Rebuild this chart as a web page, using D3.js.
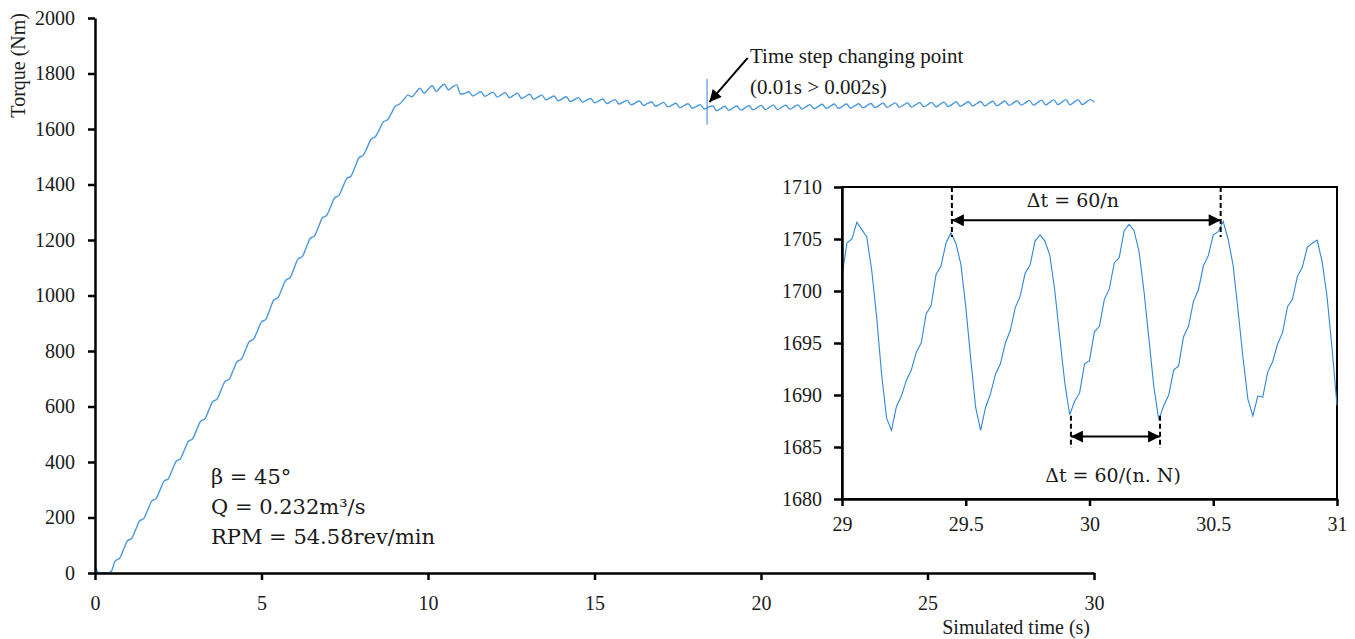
<!DOCTYPE html>
<html>
<head>
<meta charset="utf-8">
<script src="https://cdn.jsdelivr.net/npm/d3@7"></script>
<style>
  body { margin: 0; background: #fff; }
</style>
</head>
<body>
<div id="chart"></div>
<script>
// whole run: one torque sample every 0.122 s (a third of a blade passing period)
const sampleStep = 0.122;
const torque = [
  25, 0, 0, 0, 6,
  44, 52, 84, 116, 124, 156, 188, 196, 228, 260, 268, 299,
  331, 339, 371, 403, 411, 443, 475, 483, 515, 547, 555, 586,
  618, 626, 658, 690, 698, 730, 762, 770, 802, 834, 842, 873,
  905, 913, 948, 984, 992, 1024, 1056, 1064, 1098, 1132, 1140, 1173,
  1206, 1214, 1247, 1280, 1288, 1320, 1352, 1360, 1391, 1422, 1430, 1463,
  1497, 1505, 1534, 1564, 1572, 1598, 1626, 1633, 1658, 1684, 1690, 1706,
  1722, 1716, 1732, 1747, 1729, 1743, 1756, 1735, 1750, 1761, 1741, 1752,
  1759, 1726, 1728, 1734, 1719, 1727, 1734,
  1718, 1726, 1733, 1715, 1723, 1731, 1713, 1721, 1729, 1710, 1718, 1725,
  1707, 1715, 1722, 1705, 1712, 1719, 1702, 1709, 1716, 1699, 1706, 1713,
  1697, 1704, 1710, 1694, 1701, 1708, 1692, 1699, 1706, 1690, 1697, 1703,
  1687, 1694, 1701, 1685, 1692, 1698, 1682, 1689, 1696, 1680, 1686, 1693,
  1677, 1684, 1691, 1675, 1681, 1688, 1672,
  1679, 1684, 1666, 1673, 1682, 1667, 1675, 1683,
  1668, 1676, 1684, 1669, 1677, 1685, 1670, 1678, 1686, 1670, 1678, 1686,
  1671, 1679, 1687, 1672, 1680, 1688, 1673, 1681, 1689, 1674, 1682, 1690,
  1674, 1682, 1690, 1675, 1683, 1691, 1676, 1684, 1692, 1677, 1685, 1693,
  1678, 1686, 1694, 1678, 1686, 1694, 1679, 1687, 1695, 1680, 1688, 1696,
  1680, 1689, 1697, 1681, 1689, 1698, 1682, 1690, 1698, 1683, 1691, 1699,
  1683, 1692, 1700, 1684, 1692, 1701, 1685, 1693, 1702, 1686, 1694, 1703,
  1686, 1695, 1704, 1687, 1696, 1705, 1688, 1697, 1706, 1687, 1697, 1706,
  1688, 1697, 1706, 1697
];
const xTicksMain = [0, 5, 10, 15, 20, 25, 30];
const yTicksMain = [0, 200, 400, 600, 800, 1000, 1200, 1400, 1600, 1800, 2000];

// zoomed window 29 - 31 s, one sample every 0.02 s
const detailStart = 29;
const detailStep = 0.02;
const detailTorque = [
  1701.5, 1704.6, 1705.0, 1706.6, 1705.9, 1705.2, 1702.0, 1697.5, 1692.0, 1687.8,
  1686.6, 1688.9, 1689.9, 1691.4, 1692.4, 1694.1, 1695.0, 1697.8, 1698.6, 1701.6,
  1702.4, 1704.6, 1705.6, 1704.6, 1702.6, 1698.5, 1693.5, 1688.8, 1686.6, 1688.8,
  1690.1, 1692.0, 1693.0, 1695.0, 1696.2, 1698.4, 1699.5, 1701.7, 1702.5, 1704.8,
  1705.4, 1704.8, 1703.4, 1700.0, 1695.5, 1691.2, 1688.1, 1689.4, 1690.2, 1693.0,
  1693.3, 1696.1, 1696.6, 1699.2, 1700.2, 1702.7, 1703.2, 1705.8, 1706.4, 1705.8,
  1703.8, 1700.0, 1695.4, 1690.8, 1687.6, 1689.0, 1690.0, 1692.4, 1692.8, 1695.6,
  1696.6, 1699.0, 1700.1, 1702.4, 1703.4, 1705.4, 1705.7, 1706.7, 1705.0, 1702.5,
  1698.2, 1693.6, 1689.6, 1688.0, 1689.9, 1689.8, 1692.2, 1693.2, 1694.9, 1696.0,
  1698.5, 1699.2, 1701.4, 1702.3, 1704.2, 1704.6, 1704.9, 1702.8, 1699.4, 1694.5,
  1689.0
];
const xTicksInset = [29, 29.5, 30, 30.5, 31];
const yTicksInset = [1680, 1685, 1690, 1695, 1700, 1705, 1710];

// annotations
const changePoint = 18.38;
const rotorPeriod = [29.444, 30.53];      // dt = 60/n
const bladePeriod = [29.925, 30.285];     // dt = 60/(n.N)
const caseNotes = ["β = 45°", "Q = 0.232m³/s", "RPM = 54.58rev/min"];

const width = 1355, height = 639;
const serif = "'Liberation Serif', 'Times New Roman', serif";
const mathFont = "'DejaVu Serif', serif";

document.addEventListener('DOMContentLoaded', function () {
    var svg = d3.select("#chart").append("svg")
        .attr("width", width)
        .attr("height", height);

    var defs = svg.append("defs");
    defs.append("marker")
        .attr("id", "head")
        .attr("viewBox", "0 0 10 10")
        .attr("refX", 10)
        .attr("refY", 5)
        .attr("markerUnits", "userSpaceOnUse")
        .attr("markerWidth", 16)
        .attr("markerHeight", 12)
        .attr("orient", "auto-start-reverse")
        .append("path")
        .attr("d", "M0,0L10,5L0,10z")
        .attr("fill", "#000");

    drawMain(svg);
    drawInset(svg);
});

function styleAxis(g, size) {
    g.attr("font-family", serif).attr("font-size", size);
    g.select(".domain").attr("stroke-width", 2.5);
    g.selectAll(".tick line").attr("stroke-width", 2.5);
    g.selectAll(".tick text").attr("fill", "#1a1a1a");
}

function drawMain(svg) {
    var x = d3.scaleLinear().domain([0, 30]).range([95, 1094]);
    var y = d3.scaleLinear().domain([0, 2000]).range([573, 18]);

    var line = d3.line()
        .x(function (d, i) { return x(i * sampleStep); })
        .y(function (d) { return y(d); })
        .curve(d3.curveMonotoneX);

    svg.append("path")
        .datum(torque)
        .attr("d", line)
        .attr("fill", "none")
        .attr("stroke", "#4a98e0")
        .attr("stroke-width", 1.4);

    // time step change marker
    svg.append("line")
        .attr("x1", x(changePoint)).attr("x2", x(changePoint))
        .attr("y1", y(1615)).attr("y2", y(1780))
        .attr("stroke", "#4a98e0")
        .attr("stroke-width", 1.2);

    svg.append("g")
        .attr("transform", "translate(0," + y(0) + ")")
        .call(d3.axisBottom(x).tickValues(xTicksMain).tickFormat(d3.format("d"))
            .tickSize(7).tickPadding(16).tickSizeOuter(0))
        .call(styleAxis, 20);

    svg.append("g")
        .attr("transform", "translate(" + x(0) + ",0)")
        .call(d3.axisLeft(y).tickValues(yTicksMain).tickFormat(d3.format("d"))
            .tickSize(7).tickPadding(13).tickSizeOuter(0))
        .call(styleAxis, 20);

    svg.append("text")
        .attr("transform", "translate(25,13) rotate(-90)")
        .attr("text-anchor", "end")
        .attr("font-family", serif)
        .attr("font-size", 20)
        .attr("fill", "#1a1a1a")
        .text("Torque (Nm)");

    svg.append("text")
        .attr("x", 1090)
        .attr("y", 634)
        .attr("text-anchor", "end")
        .attr("font-family", serif)
        .attr("font-size", 20)
        .attr("fill", "#1a1a1a")
        .text("Simulated time (s)");

    // arrow + label for the change point
    svg.append("line")
        .attr("x1", x(19.6)).attr("y1", y(1856))
        .attr("x2", x(18.45)).attr("y2", y(1697))
        .attr("stroke", "#000")
        .attr("stroke-width", 2)
        .attr("marker-end", "url(#head)");

    var note = svg.append("text")
        .attr("font-family", serif)
        .attr("font-size", 21)
        .attr("fill", "#1a1a1a");
    note.append("tspan").attr("x", 750).attr("y", 63).text("Time step changing point");
    note.append("tspan").attr("x", 750).attr("y", 94).text("(0.01s > 0.002s)");

    svg.append("g")
        .selectAll("text")
        .data(caseNotes)
        .join("text")
        .attr("x", 211)
        .attr("y", function (d, i) { return 484 + i * 30; })
        .attr("font-family", mathFont)
        .attr("font-size", 21)
        .attr("fill", "#1a1a1a")
        .text(function (d) { return d; });
}

function drawInset(svg) {
    var x = d3.scaleLinear().domain([29, 31]).range([842, 1337]);
    var y = d3.scaleLinear().domain([1680, 1710]).range([499, 187]);

    svg.append("rect")
        .attr("x", 842).attr("y", 187)
        .attr("width", 1337 - 842).attr("height", 499 - 187)
        .attr("fill", "#fff")
        .attr("stroke", "#000")
        .attr("stroke-width", 2);

    var line = d3.line()
        .x(function (d, i) { return x(detailStart + i * detailStep); })
        .y(function (d) { return y(d); });

    svg.append("path")
        .datum(detailTorque)
        .attr("d", line)
        .attr("fill", "none")
        .attr("stroke", "#2f86d8")
        .attr("stroke-width", 1.1);

    svg.append("g")
        .attr("transform", "translate(0," + y(1680) + ")")
        .call(d3.axisBottom(x).tickValues(xTicksInset).tickFormat(String)
            .tickSize(7).tickPadding(11).tickSizeOuter(0))
        .call(styleAxis, 20);

    svg.append("g")
        .attr("transform", "translate(" + x(29) + ",0)")
        .call(d3.axisLeft(y).tickValues(yTicksInset).tickFormat(d3.format("d"))
            .tickSize(8).tickPadding(12).tickSizeOuter(0))
        .call(styleAxis, 20);

    // dashed period markers
    var dashes = [
        {t: rotorPeriod[0], v0: 1710, v1: 1705.2},
        {t: rotorPeriod[1], v0: 1710, v1: 1705.2},
        {t: bladePeriod[0], v0: 1688, v1: 1684.9},
        {t: bladePeriod[1], v0: 1688, v1: 1684.9}
    ];
    svg.append("g")
        .selectAll("line")
        .data(dashes)
        .join("line")
        .attr("x1", function (d) { return x(d.t); })
        .attr("x2", function (d) { return x(d.t); })
        .attr("y1", function (d) { return y(d.v0); })
        .attr("y2", function (d) { return y(d.v1); })
        .attr("stroke", "#000")
        .attr("stroke-width", 2)
        .attr("stroke-dasharray", "5,3");

    var spans = [
        {a: rotorPeriod[0], b: rotorPeriod[1], v: 1706.8},
        {a: bladePeriod[0], b: bladePeriod[1], v: 1686}
    ];
    svg.append("g")
        .selectAll("line")
        .data(spans)
        .join("line")
        .attr("x1", function (d) { return x(d.a); })
        .attr("x2", function (d) { return x(d.b); })
        .attr("y1", function (d) { return y(d.v); })
        .attr("y2", function (d) { return y(d.v); })
        .attr("stroke", "#000")
        .attr("stroke-width", 2)
        .attr("marker-start", "url(#head)")
        .attr("marker-end", "url(#head)");

    svg.append("text")
        .attr("x", x(29.933)).attr("y", y(1708.1))
        .attr("text-anchor", "middle")
        .attr("font-family", mathFont)
        .attr("font-size", 19)
        .attr("fill", "#1a1a1a")
        .text("Δt = 60/n");

    svg.append("text")
        .attr("x", x(30.095)).attr("y", y(1681.6))
        .attr("text-anchor", "middle")
        .attr("font-family", mathFont)
        .attr("font-size", 19)
        .attr("fill", "#1a1a1a")
        .text("Δt = 60/(n. N)");
}
</script>
</body>
</html>
